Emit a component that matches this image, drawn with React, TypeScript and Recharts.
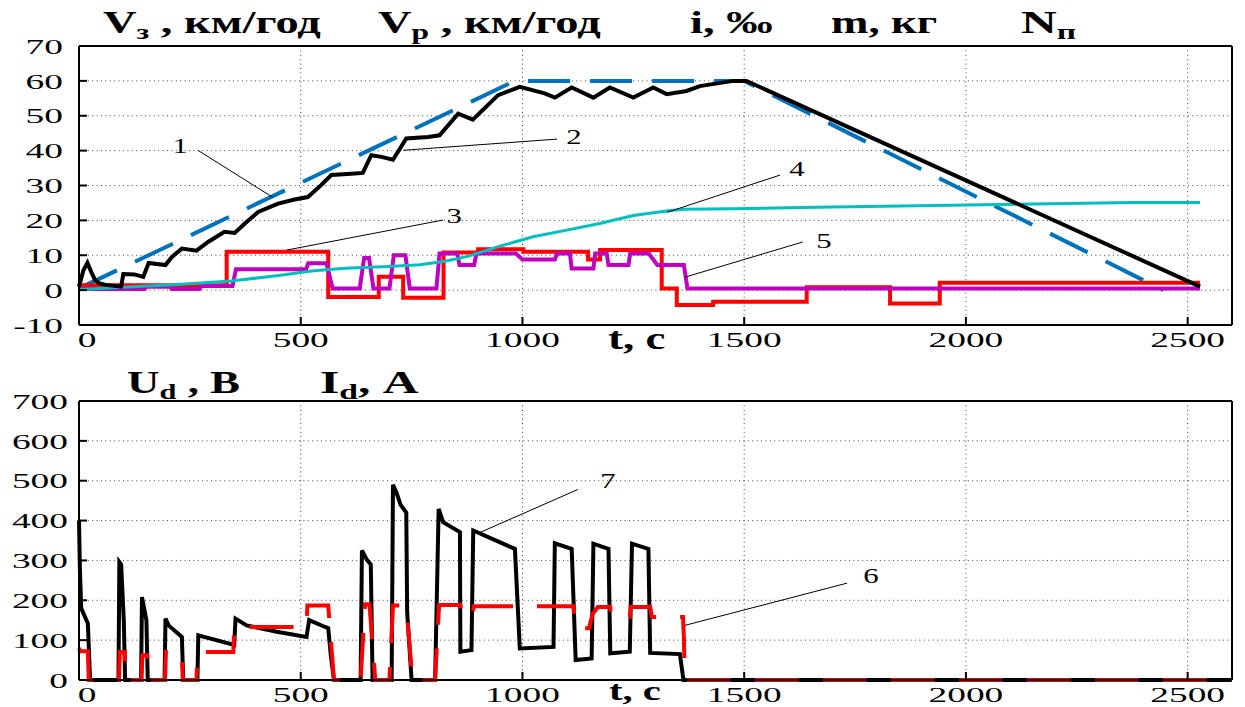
import React from "react";
import {
  CartesianGrid,
  Line,
  LineChart,
  ReferenceDot,
  ReferenceLine,
  XAxis,
  YAxis,
} from "recharts";

const SERIF = '"Liberation Serif", "DejaVu Serif", serif';

const tTicks = [0, 500, 1000, 1500, 2000, 2500];
const vTicks = [-10, 0, 10, 20, 30, 40, 50, 60, 70];
const uTicks = [0, 100, 200, 300, 400, 500, 600, 700];

// upper plot, [t, value]
const vTarget = [[0, 0.5], [983, 60], [1500, 60], [2445, 0]];
const vReal = [
  [0, 1], [10, 5.7], [19, 7.8], [29, 4.8], [36, 3], [45, 2], [60, 1.5], [95, 1], [100, 4.6],
  [125, 4.5], [145, 3.8], [157, 7.8], [195, 7.2], [210, 9.6], [232, 11.9], [265, 11.3],
  [291, 13.8], [328, 16.7], [351, 16.4], [374, 19.1], [404, 22.4], [449, 24.8], [486, 26],
  [516, 26.7], [546, 30.1], [569, 33], [614, 33.4], [640, 33.6], [659, 38.7], [682, 38.2],
  [708, 37.4], [738, 43.5], [787, 43.9], [813, 44.4], [855, 50.6], [888, 48.9], [945, 55.9],
  [994, 58.3], [1050, 56.4], [1073, 55.2], [1111, 58.1], [1160, 55.2], [1197, 58.1],
  [1250, 55.2], [1295, 58.1], [1325, 56.2], [1370, 57.1], [1400, 58.5], [1475, 60],
  [1505, 60], [2528, 1],
];
const slope = [
  [0, 1.4], [333, 11], [562, -2], [676, 3.8], [731, -2.2], [822, 10.8], [900, 11.7],
  [1002, 11], [1148, 8.8], [1175, 11.5], [1314, 0.5], [1348, -4.3], [1430, -3.3],
  [1641, 0.8], [1829, -3.8], [1941, 2.1], [2528, 2.1],
];
const mass = [
  [0, 0.2], [223, 1.6], [343, 2.6], [450, 4.2], [524, 5.5], [600, 6.3], [700, 6.8],
  [769, 7.3], [825, 8.3], [874, 9.6], [949, 12.6], [1024, 15.3], [1100, 17.2], [1174, 19.1],
  [1250, 21.4], [1325, 22.7], [1363, 23.2], [1475, 23.3], [1626, 23.7], [2002, 24.4],
  [2377, 25.1], [2528, 25.1],
];
const notch = [
  [0, 0.3], [148, 0.3], [152, 1], [205, 1], [209, 0.3], [272, 0.3], [276, 1.2], [346, 1.2],
  [354, 6], [512, 6], [517, 7.7], [558, 7.7], [572, 0.5], [633, 0.5], [643, 9.2], [654, 9.2],
  [664, 0.5], [700, 0.5], [710, 10], [736, 10], [746, 0.5], [806, 0.5], [813, 10.5],
  [853, 10.5], [858, 7.2], [891, 7.2], [896, 10.5], [985, 10.5], [1000, 8.8], [1073, 8.8],
  [1078, 10.5], [1107, 10.5], [1111, 6.2], [1160, 6.2], [1164, 10.5], [1190, 10.5],
  [1194, 7.2], [1239, 7.2], [1243, 10.5], [1285, 10.5], [1304, 7.2], [1364, 7.2],
  [1372, 0.5], [2528, 0.5],
];

// lower plot
const ud = [
  [0, 400], [2, 280], [5, 180], [20, 142], [25, 0],
  [89, 0], [91, 296], [95, 290], [101, 150], [104, 0],
  [140, 0], [142, 208], [152, 150], [155, 0],
  [193, 0], [195, 154], [202, 137], [232, 108], [235, 0],
  [267, 0], [269, 112], [350, 88], [353, 154], [378, 137], [446, 121], [513, 108],
  [519, 150], [555, 133], [562, 130], [568, 60], [575, 0],
  [635, 0], [638, 325], [650, 300], [658, 290], [662, 0],
  [705, 0], [708, 490], [716, 470], [725, 440], [738, 420], [740, 170], [750, 0],
  [803, 0], [811, 429], [821, 396], [859, 371], [860, 71], [885, 75], [889, 375],
  [983, 329], [994, 79], [1070, 83], [1073, 343], [1111, 329], [1120, 50], [1156, 54],
  [1160, 342], [1194, 329], [1198, 67], [1242, 71], [1247, 342], [1284, 329], [1288, 68],
  [1355, 65], [1363, 0], [2600, 0],
];
const id = [
  [0, 80], [3, 72], [20, 72], [22, 0], [90, 0], [92, 70], [103, 70], [104, 0],
  [141, 0], [143, 62], [154, 62], [156, 0], [194, 0], [196, 70], [232, 70], [234, 0],
  [265, 0], [267, 70], [348, 70], [350, 133], [513, 133], [515, 187], [562, 187], [575, 0],
  [635, 0], [645, 190], [655, 190], [668, 0], [700, 0], [708, 187], [738, 187], [752, 0],
  [803, 0], [812, 188], [860, 188], [864, 160], [888, 160], [890, 185], [1115, 185],
  [1120, 130], [1150, 130], [1158, 165], [1170, 183], [1198, 183], [1200, 158],
  [1242, 158], [1244, 183], [1288, 183], [1292, 158], [1362, 158], [1364, 108],
  [1366, 0], [2600, 0],
];

// curve labels: [number, lineFrom, lineTo, textAt]
const topNotes = [
  ["1", [268, 40.1], [437, 26.6], [228, 41.5]],
  ["2", [731, 40.1], [1078, 43.3], [1116, 44.1]],
  ["3", [469, 11.5], [821, 20.1], [846, 21.5]],
  ["4", [1326, 22.3], [1581, 33], [1619, 35]],
  ["5", [1366, 3.7], [1632, 13.8], [1680, 14.3]],
];
const bottomNotes = [
  ["7", [904, 370], [1125, 478], [1193, 500]],
  ["6", [1366, 137], [1732, 243], [1786, 263]],
];

const pts = (a: number[][]) => a.map(([t, v]) => ({ t, v }));

function NumTick(props: any) {
  const { x, y, payload, anchor, shift = 0 } = props;
  const dx = payload.value === 0 ? shift : 0;
  return (
    <text
      transform={`translate(${x + dx},${y}) scale(1.7,1)`}
      textAnchor={anchor}
      dy="0.35em"
      fontFamily={SERIF}
      fontSize={22}
      fill="#000"
    >
      {payload.value}
    </text>
  );
}

const noteShape = (label: string) => (p: any) => (
  <text
    transform={`translate(${p.cx},${p.cy}) scale(1.4,1)`}
    textAnchor="middle"
    dy="0.35em"
    fontFamily={SERIF}
    fontSize={22}
    fill="#000"
  >
    {label}
  </text>
);

function renderNotes(notes: any[]) {
  return notes.flatMap(([label, a, b, c]) => [
    <ReferenceLine
      key={"l" + label}
      segment={[{ x: a[0], y: a[1] }, { x: b[0], y: b[1] }]}
      stroke="#000"
      strokeWidth={1}
    />,
    <ReferenceDot key={"d" + label} x={c[0]} y={c[1]} r={0} shape={noteShape(label)} />,
  ]);
}

function frame(yTicks: number[], yDomain: number[], yMargin: number) {
  const line = { stroke: "#000", strokeWidth: 2 };
  return [
    <CartesianGrid key="g" stroke="#444" strokeDasharray="1 3.4" />,
    <XAxis
      key="x"
      type="number"
      dataKey="t"
      domain={[0, 2600]}
      ticks={tTicks}
      height={27}
      axisLine={line}
      tickLine={line}
      tickSize={-8}
      tickMargin={22}
      tick={<NumTick anchor="middle" shift={8} />}
    />,
    <XAxis
      key="xt"
      xAxisId="top"
      orientation="top"
      type="number"
      domain={[0, 2600]}
      ticks={tTicks}
      height={1}
      axisLine={line}
      tickLine={line}
      tickSize={-8}
      tick={false}
    />,
    <YAxis
      key="y"
      type="number"
      domain={yDomain}
      ticks={yTicks}
      width={79}
      axisLine={line}
      tickLine={line}
      tickSize={-8}
      tickMargin={yMargin}
      tick={<NumTick anchor="end" />}
    />,
    <YAxis
      key="yr"
      yAxisId="right"
      orientation="right"
      type="number"
      domain={yDomain}
      ticks={yTicks}
      width={1}
      axisLine={line}
      tickLine={line}
      tickSize={-8}
      tick={false}
    />,
  ];
}

function Titles() {
  const T = (x: number, y: number, k: number, children: React.ReactNode, size = 31) => (
    <text
      transform={`translate(${x},${y}) scale(${k},1)`}
      fontFamily={SERIF}
      fontSize={size}
      fontWeight="bold"
      fill="#000"
    >
      {children}
    </text>
  );
  const sub = (s: string) => (
    <tspan fontSize={21} dy={6}>
      {s}
    </tspan>
  );
  const back = (s: string) => <tspan dy={-6}>{s}</tspan>;
  return (
    <svg
      width={1245}
      height={707}
      style={{ position: "absolute", left: 0, top: 0, pointerEvents: "none" }}
    >
      {T(103, 33, 1.5, <>V{sub("з")}{back(" , км/год")}</>)}
      {T(378, 33, 1.5, <>V{sub("р")}{back(" , км/год")}</>)}
      {T(690, 33, 1.5, "i, ‰")}
      {T(831, 33, 1.45, "m, кг")}
      {T(1021, 33, 1.6, <>N{sub("п")}</>)}
      {T(127, 393, 1.45, <>U{sub("d")}{back(" , В")}</>)}
      {T(320, 393, 1.6, <>I{sub("d")}{back(", А")}</>)}
      {T(608, 349, 1.45, "t, с")}
      {T(609, 700, 1.45, "t, с", 28)}
    </svg>
  );
}

export default function App() {
  return (
    <div
      style={{
        position: "absolute",
        left: 0,
        top: 0,
        width: 1245,
        height: 707,
        background: "#fff",
        overflow: "hidden",
      }}
    >
      <div style={{ position: "absolute", left: 0, top: 0 }}>
        <LineChart width={1245} height={352} margin={{ top: 45, right: 12, bottom: 0, left: 0 }}>
          {frame(vTicks, [-10, 70], 24)}
          <Line data={pts(vTarget)} dataKey="v" stroke="#0072BD" strokeWidth={4} strokeDasharray="42 20" dot={false} isAnimationActive={false} />
          <Line data={pts(slope)} dataKey="v" type="stepAfter" stroke="#FF0000" strokeWidth={4} dot={false} isAnimationActive={false} />
          <Line data={pts(notch)} dataKey="v" stroke="#BF00BF" strokeWidth={4} dot={false} isAnimationActive={false} />
          <Line data={pts(mass)} dataKey="v" stroke="#00BFBF" strokeWidth={3} dot={false} isAnimationActive={false} />
          <Line data={pts(vReal)} dataKey="v" stroke="#000" strokeWidth={4} dot={false} isAnimationActive={false} />
          {renderNotes(topNotes)}
        </LineChart>
      </div>
      <div style={{ position: "absolute", left: 0, top: 360 }}>
        <LineChart width={1245} height={347} margin={{ top: 40, right: 12, bottom: 0, left: 0 }}>
          {frame(uTicks, [0, 700], 19)}
          <Line data={pts(ud)} dataKey="v" stroke="#000" strokeWidth={4} dot={false} isAnimationActive={false} />
          <Line data={pts(id)} dataKey="v" stroke="#FF0000" strokeWidth={4} strokeDasharray="44 24" dot={false} isAnimationActive={false} />
          {renderNotes(bottomNotes)}
        </LineChart>
      </div>
      <Titles />
    </div>
  );
}
